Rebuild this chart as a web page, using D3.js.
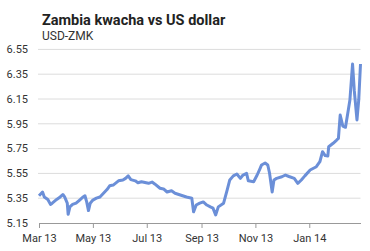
<!DOCTYPE html>
<html><head><meta charset="utf-8">
<script src="https://cdn.jsdelivr.net/npm/d3@7"></script>
<style>body{margin:0;background:#fff;}svg{display:block;font-family:Roboto,"Open Sans",sans-serif;}</style>
</head><body><svg id="c" width="370" height="251"></svg>
<script>
const title = "Zambia kwacha vs US dollar";
const subtitle = "USD-ZMK";
const yTicks = [5.15, 5.35, 5.55, 5.75, 5.95, 6.15, 6.35, 6.55];
const xTickDates = ["2013-03-01","2013-05-01","2013-07-01","2013-09-01","2013-11-01","2014-01-01"];
const xTickLabels = ["Mar 13","May 13","Jul 13","Sep 13","Nov 13","Jan 14"];
const dates = ["2013-03-01","2013-03-05","2013-03-07","2013-03-11","2013-03-14","2013-03-16","2013-03-21","2013-03-25","2013-03-28","2013-03-30",
"2013-04-02","2013-04-03","2013-04-05","2013-04-08","2013-04-12","2013-04-16","2013-04-20","2013-04-22","2013-04-24","2013-04-26","2013-04-28",
"2013-05-01","2013-05-05","2013-05-09","2013-05-13","2013-05-17","2013-05-20","2013-05-24","2013-05-30",
"2013-06-04","2013-06-07","2013-06-10","2013-06-13","2013-06-18","2013-06-21","2013-06-25",
"2013-07-03","2013-07-07","2013-07-10","2013-07-16","2013-07-20","2013-07-24","2013-07-29",
"2013-08-02","2013-08-08","2013-08-15","2013-08-21","2013-08-23","2013-08-26","2013-08-30",
"2013-09-03","2013-09-07","2013-09-11","2013-09-14","2013-09-17","2013-09-20","2013-09-26","2013-09-30",
"2013-10-03","2013-10-07","2013-10-11","2013-10-15","2013-10-18","2013-10-22","2013-10-24","2013-10-30",
"2013-11-03","2013-11-06","2013-11-08","2013-11-12","2013-11-15","2013-11-17","2013-11-20","2013-11-22","2013-11-25",
"2013-12-01","2013-12-05","2013-12-09","2013-12-15","2013-12-19","2013-12-23","2013-12-27",
"2014-01-02","2014-01-09","2014-01-13","2014-01-16","2014-01-19","2014-01-22","2014-01-23","2014-01-28",
"2014-02-01","2014-02-03","2014-02-05","2014-02-08","2014-02-11","2014-02-14","2014-02-16","2014-02-19","2014-02-21","2014-02-24","2014-02-26","2014-02-28"];
const rates = [5.37,5.40,5.36,5.34,5.30,5.31,5.34,5.36,5.38,5.36,
5.31,5.22,5.28,5.30,5.31,5.335,5.36,5.37,5.32,5.25,5.31,
5.335,5.35,5.36,5.39,5.42,5.45,5.456,5.49,
5.497,5.51,5.53,5.50,5.49,5.475,5.483,
5.47,5.48,5.465,5.43,5.425,5.40,5.41,
5.39,5.376,5.36,5.35,5.24,5.295,5.31,
5.32,5.295,5.28,5.27,5.215,5.28,5.31,5.416,
5.497,5.53,5.545,5.51,5.537,5.55,5.49,5.483,
5.537,5.585,5.618,5.634,5.618,5.553,5.40,5.497,5.51,
5.523,5.537,5.525,5.51,5.47,5.497,5.53,
5.577,5.604,5.644,5.725,5.694,5.69,5.765,5.793,
5.819,5.833,6.021,5.932,5.922,6.053,6.142,6.432,6.215,5.981,6.142,6.432];

const parse = d3.timeParse("%Y-%m-%d");
const data = dates.map((d,i)=>({date:parse(d), v:rates[i]}));
const svg = d3.select("#c");
const x = d3.scaleTime().domain([parse("2013-03-01"), parse("2014-02-28")]).range([39, 360.5]);
const y = d3.scaleLinear().domain([5.15, 6.55]).range([223, 49.4]);

svg.append("text").attr("x",42).attr("y",25).attr("font-size",14.5).attr("font-weight","bold").attr("fill","#222").text(title);
svg.append("text").attr("x",42).attr("y",39.5).attr("font-size",12).attr("fill","#333").text(subtitle);

// grid
svg.append("g").selectAll("line").data(yTicks.slice(1)).join("line")
  .attr("x1",38).attr("x2",360.5).attr("y1",d=>y(d)).attr("y2",d=>y(d))
  .attr("stroke","#dcdcdc").attr("stroke-width",1);

// y labels
svg.append("g").selectAll("text").data(yTicks).join("text")
  .attr("x",28).attr("y",d=>y(d)).attr("dy","0.35em").attr("text-anchor","end")
  .attr("font-size",11).attr("fill","#333").text(d=>d.toFixed(2));

// x axis
const xa = svg.append("g").attr("transform","translate(0,223)")
  .call(d3.axisBottom(x).tickValues(xTickDates.map(parse)).tickFormat((d,i)=>xTickLabels[i]).tickSize(5).tickSizeOuter(0).tickPadding(6));
xa.select(".domain").attr("stroke","#999");
xa.selectAll(".tick line").attr("stroke","#999");
xa.selectAll(".tick text").attr("font-size",11).attr("fill","#333").attr("font-family","Roboto,sans-serif");

// line
svg.append("path").datum(data)
  .attr("fill","none").attr("stroke","#6b8fd8").attr("stroke-width",3).attr("stroke-linejoin","round")
  .attr("d", d3.line().x(d=>x(d.date)).y(d=>y(d.v)));
</script></body></html>
